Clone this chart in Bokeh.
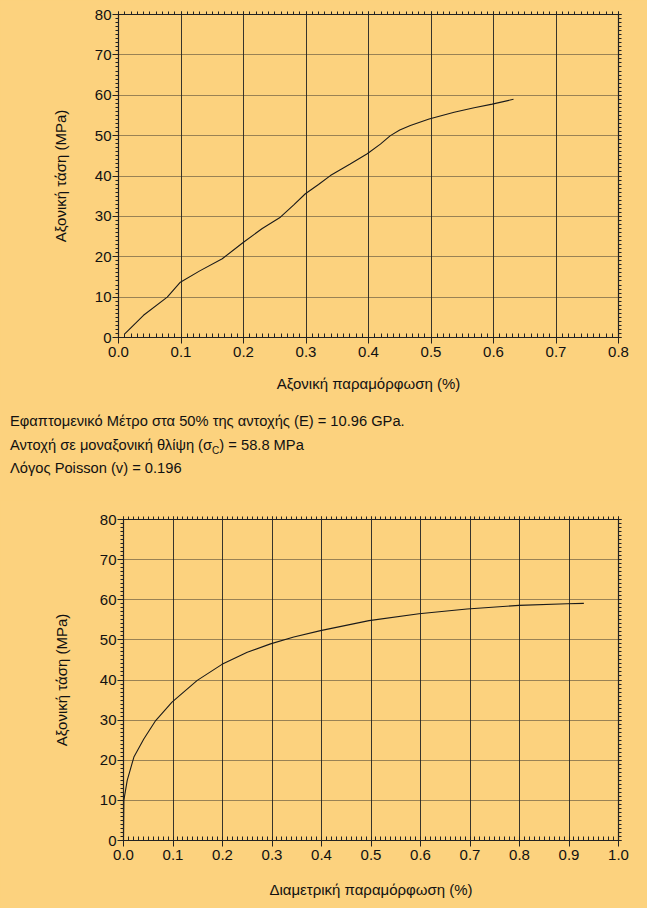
from bokeh.plotting import figure
from bokeh.models import (LinearAxis, Div, Range1d, SingleIntervalTicker,
                          NumeralTickFormatter, CustomJSTickFormatter)
from bokeh.layouts import column
from bokeh.embed import file_html
from bokeh.resources import INLINE

# ---- data ----
axial_strain = [0.01, 0.04, 0.078, 0.099, 0.13, 0.166, 0.2, 0.23, 0.259, 0.28, 0.299, 0.32,
                0.339, 0.37, 0.398, 0.419, 0.435, 0.45, 0.467, 0.497, 0.537, 0.569, 0.598, 0.632]
axial_stress = [0.9, 5.5, 10.0, 13.7, 16.5, 19.5, 23.6, 27.0, 29.8, 32.8, 35.6, 37.9,
                40.1, 42.9, 45.5, 47.9, 50.0, 51.4, 52.5, 54.1, 55.8, 56.9, 57.8, 59.0]

diam_strain = [0.0, 0.0007, 0.0075, 0.021, 0.041, 0.065, 0.098, 0.149, 0.199, 0.25, 0.297,
               0.344, 0.398, 0.496, 0.597, 0.694, 0.799, 0.896, 0.93]
diam_stress = [0.8, 10.0, 15.0, 20.8, 25.3, 29.9, 34.5, 39.9, 43.9, 46.9, 49.0,
               50.7, 52.3, 54.8, 56.5, 57.7, 58.6, 59.0, 59.1]

top_xmax = 0.8
bot_xmax = 1.0
x_step = 0.1
y_max = 80
y_step = 10

y_label = "Αξονική τάση (MPa)"
top_xlabel = "Αξονική παραμόρφωση (%)"
bot_xlabel = "Διαμετρική παραμόρφωση (%)"
notes = ["Εφαπτομενικό Μέτρο στα 50% της αντοχής (Ε) = 10.96 GPa.",
         "Αντοχή σε μοναξονική θλίψη (σ<sub style='font-size:10px;line-height:0'>C</sub>) = 58.8 MPa",
         "Λόγος Poisson (v) = 0.196"]

BG = "#FCD27E"
FONT = "Liberation Sans"
W = 647


def make_fig(height, xmax, xlabel, borders, xlab_standoff, ylab_standoff):
    bl, br, bt, bb = borders
    p = figure(width=W, height=height, output_backend="svg", toolbar_location=None,
               x_range=Range1d(0, xmax), y_range=Range1d(0, y_max),
               min_border_left=bl, min_border_right=br, min_border_top=bt,
               min_border_bottom=bb, x_axis_location=None, y_axis_location=None)
    try:
        p.frame_align = False
    except Exception:
        pass
    p.background_fill_color = BG
    p.border_fill_color = BG
    p.outline_line_color = "#222222"
    p.outline_line_width = 1.2

    xt = SingleIntervalTicker(interval=x_step, num_minor_ticks=10)
    yt = SingleIntervalTicker(interval=y_step, num_minor_ticks=10)
    blank = CustomJSTickFormatter(code="return '';")

    bottom = LinearAxis(ticker=xt, axis_label=xlabel,
                        formatter=NumeralTickFormatter(format="0.0"))
    left = LinearAxis(ticker=yt, axis_label=y_label)
    top = LinearAxis(ticker=xt, formatter=blank)
    right = LinearAxis(ticker=yt, formatter=blank)
    for ax in (bottom, left, top, right):
        ax.axis_line_color = "#222222"
        ax.major_tick_line_color = "#222222"
        ax.minor_tick_line_color = "#222222"
        ax.minor_tick_line_width = 1
        ax.major_label_text_font = FONT
        ax.major_label_text_color = "#111111"
        ax.major_label_text_font_size = "15px"
        ax.axis_label_text_font = FONT
        ax.axis_label_text_font_style = "normal"
        ax.axis_label_text_color = "#111111"
        ax.axis_label_text_font_size = "15px"
    bottom.major_tick_out = 6
    bottom.major_tick_in = 0
    bottom.minor_tick_in = 4
    bottom.minor_tick_out = 0
    bottom.major_label_standoff = 3
    bottom.axis_label_standoff = xlab_standoff
    left.major_tick_out = 6
    left.major_tick_in = 0
    left.minor_tick_out = 3
    left.minor_tick_in = 0
    left.major_label_standoff = 1
    left.axis_label_standoff = ylab_standoff
    for ax in (top, right):
        ax.major_tick_out = 3
        ax.major_tick_in = 0
        ax.minor_tick_out = 3
        ax.minor_tick_in = 0
        ax.major_label_standoff = 0
    p.add_layout(bottom, "below")
    p.add_layout(left, "left")
    p.add_layout(top, "above")
    p.add_layout(right, "right")

    p.xgrid.ticker = xt
    p.ygrid.ticker = yt
    p.xgrid.grid_line_color = "#222222"
    p.xgrid.grid_line_width = 1
    p.xgrid.grid_line_alpha = 0.9
    p.ygrid.grid_line_color = "#222222"
    p.ygrid.grid_line_width = 1
    p.ygrid.grid_line_dash = "1 1"
    p.ygrid.grid_line_alpha = 0.9
    return p


p1 = make_fig(400, top_xmax, top_xlabel, (118, 29, 14, 63), 15, 23)
p1.line(axial_strain, axial_stress, line_color="#1a1a1a", line_width=1.1)

note_html = ("<div style='padding:10px 0 0 10px;font-family:Liberation Sans;font-size:14.7px;"
             "line-height:23.5px;color:#111111;'>" + "<br>".join(notes) + "</div>")
div = Div(text=note_html, width=W, height=100, margin=0,
          styles={"background-color": BG, "overflow": "hidden"})

p2 = make_fig(408, bot_xmax, bot_xlabel, (123, 29, 19, 68), 18, 27)
p2.line(diam_strain, diam_stress, line_color="#1a1a1a", line_width=1.1)

layout = column(p1, div, p2, spacing=0, styles={"background-color": BG})

open("out.html", "w").write(file_html(layout, INLINE))
